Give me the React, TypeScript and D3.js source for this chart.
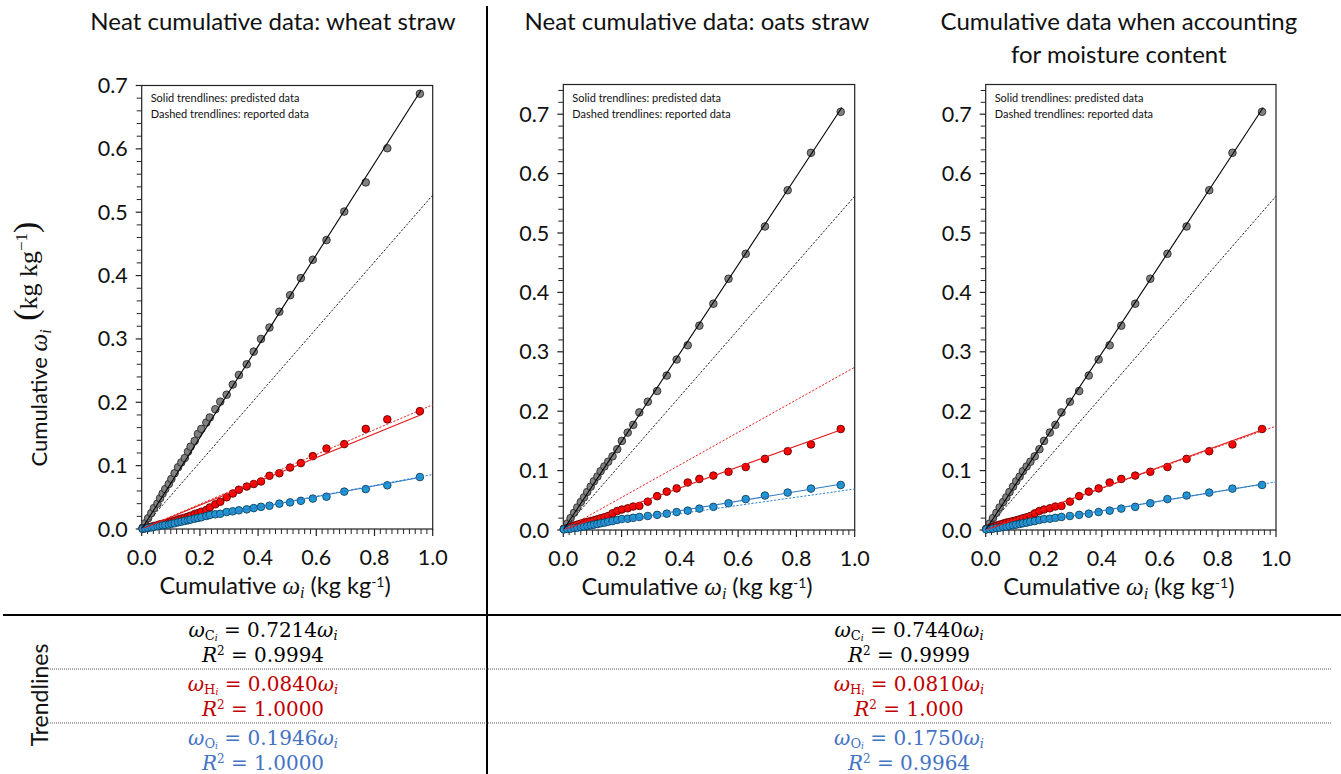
import React from 'react';
import * as d3 from 'd3';

// cumulative mass fraction (x) shared by the three element series of each panel
const wheatX = [0.003, 0.012, 0.022, 0.033, 0.042, 0.054, 0.063, 0.072, 0.081, 0.093, 0.102, 0.113, 0.125, 0.136,
  0.148, 0.159, 0.168, 0.182, 0.193, 0.205, 0.222, 0.234, 0.253, 0.270, 0.292, 0.313, 0.334, 0.361, 0.385, 0.410,
  0.439, 0.473, 0.510, 0.547, 0.588, 0.635, 0.696, 0.770, 0.844, 0.956];
const wheatC = [0.002, 0.009, 0.017, 0.025, 0.033, 0.040, 0.0485, 0.056, 0.063, 0.071, 0.079, 0.088, 0.0975, 0.105,
  0.112, 0.122, 0.130, 0.139, 0.150, 0.158, 0.168, 0.176, 0.189, 0.201, 0.212, 0.228, 0.243, 0.260, 0.280, 0.300,
  0.318, 0.343, 0.369, 0.396, 0.425, 0.456, 0.501, 0.547, 0.601, 0.687];
const wheatRed = [0.0005, 0.0015, 0.0025, 0.0036, 0.0048, 0.006, 0.0073, 0.0082, 0.009, 0.0105, 0.0117, 0.0131, 0.015,
  0.0163, 0.0178, 0.0194, 0.021, 0.0236, 0.025, 0.0273, 0.03, 0.034, 0.039, 0.043, 0.05, 0.056, 0.062, 0.067, 0.071,
  0.075, 0.084, 0.088, 0.097, 0.104, 0.115, 0.127, 0.134, 0.158, 0.173, 0.186];
const wheatBlue = [0.0003, 0.001, 0.0016, 0.0025, 0.0033, 0.0042, 0.005, 0.0057, 0.0063, 0.007, 0.0082, 0.009, 0.0105,
  0.0115, 0.0128, 0.0137, 0.0148, 0.0163, 0.0174, 0.0185, 0.0205, 0.022, 0.0232, 0.024, 0.0268, 0.0279, 0.0295, 0.031,
  0.033, 0.035, 0.0367, 0.04, 0.042, 0.0445, 0.048, 0.051, 0.059, 0.063, 0.069, 0.082];

const oatsX = [0.002, 0.014, 0.025, 0.037, 0.048, 0.060, 0.071, 0.082, 0.094, 0.105, 0.117, 0.128, 0.141, 0.154, 0.169,
  0.185, 0.201, 0.221, 0.240, 0.261, 0.290, 0.322, 0.355, 0.389, 0.427, 0.467, 0.515, 0.567, 0.626, 0.692, 0.770,
  0.850, 0.952];
const oatsC = [0.002, 0.011, 0.020, 0.029, 0.038, 0.047, 0.055, 0.064, 0.073, 0.082, 0.090, 0.099, 0.107, 0.115, 0.124,
  0.136, 0.150, 0.164, 0.177, 0.198, 0.216, 0.234, 0.260, 0.287, 0.311, 0.344, 0.381, 0.423, 0.465, 0.511, 0.572,
  0.635, 0.704];
const oatsRed = [0.0017, 0.0034, 0.005, 0.0073, 0.009, 0.0107, 0.0124, 0.0135, 0.015, 0.0163, 0.018, 0.0197, 0.0214,
  0.0236, 0.028, 0.032, 0.0345, 0.0365, 0.0395, 0.0405, 0.0477, 0.057, 0.0646, 0.07, 0.08, 0.086, 0.0916, 0.098, 0.106,
  0.1197, 0.1326, 0.144, 0.17];
const oatsBlue = [0.001, 0.0017, 0.0022, 0.0034, 0.0039, 0.005, 0.0056, 0.0068, 0.0079, 0.009, 0.0101, 0.0113, 0.0124,
  0.014, 0.015, 0.0169, 0.0185, 0.019, 0.0205, 0.022, 0.0236, 0.0255, 0.0275, 0.0302, 0.0326, 0.036, 0.039, 0.045,
  0.052, 0.058, 0.063, 0.0697, 0.0758];

// trendline slopes per panel: [grey, red, blue]
const solidSlopes = [[0.7214, 0.188, 0.085], [0.744, 0.177, 0.081], [0.744, 0.177, 0.081]];
const dashedSlopes = [[0.527, 0.196, 0.086], [0.562, 0.274, 0.069], [0.562, 0.175, 0.081]];

const panelTitles = [
  ['Neat cumulative data: wheat straw'],
  ['Neat cumulative data: oats straw'],
  ['Cumulative data when accounting', 'for moisture content'],
];
const yMaxes = [0.7, 0.75, 0.75];
const noteLines = ['Solid trendlines: predisted data', 'Dashed trendlines: reported data'];

// table rows: [element, slope, R²]
const wheatTrends = [['C', '0.7214', '0.9994'], ['H', '0.0840', '1.0000'], ['O', '0.1946', '1.0000']];
const oatsTrends = [['C', '0.7440', '0.9999'], ['H', '0.0810', '1.000'], ['O', '0.1750', '0.9964']];

const SANS = 'Lato, "Open Sans", sans-serif';
const SERIF = '"Liberation Serif", "DejaVu Serif", serif';
const MATH = '"DejaVu Serif", "Liberation Serif", serif';

const markerFill = ['#808080', '#ff0000', '#1e9bd7'];
const markerStroke = ['#2a2a2a', '#5a0000', '#123c5c'];
const solidColor = ['#000000', '#e31a1a', '#2e7bc4'];
const dashColor = ['#222222', '#ee2222', '#2e86d6'];
const tableColor = ['#000000', '#c00000', '#4472c4'];

const layout = [
  { left: 141.7, top: 85.5, width: 291, bottom: 529 },
  { left: 563.3, top: 84.5, width: 291.4, bottom: 530 },
  { left: 985.7, top: 84.5, width: 290.3, bottom: 530 },
];

const panelData = [
  { x: wheatX, series: [wheatC, wheatRed, wheatBlue] },
  { x: oatsX, series: [oatsC, oatsRed, oatsBlue] },
  { x: oatsX, series: [oatsC, oatsRed, oatsBlue] },
];

const fmt = d3.format('.1f');

const Panel: React.FC<{ idx: number }> = ({ idx }) => {
  const { left, top, width, bottom } = layout[idx];
  const yMax = yMaxes[idx];
  const xs = d3.scaleLinear().domain([0, 1]).range([left, left + width]);
  const ys = d3.scaleLinear().domain([0, yMax]).range([bottom, top]);
  const { x, series } = panelData[idx];
  const xEnd = d3.max(x) as number;
  const line = d3.line<[number, number]>().x(d => xs(d[0])).y(d => ys(d[1]));

  const yMajor = d3.range(0, yMax + 1e-9, 0.1);
  const yMinor = d3.range(0, yMax + 1e-9, 0.02).filter(v => Math.abs(v * 10 - Math.round(v * 10)) > 1e-6);
  const xMajor = d3.range(0, 1 + 1e-9, 0.2);
  const xMinor = d3.range(0, 1 + 1e-9, 0.02).filter(v => Math.abs(v * 5 - Math.round(v * 5)) > 1e-6);
  const cx = left + width / 2;

  return (
    <g>
      {panelTitles[idx].map((t, i) => (
        <text key={t} x={idx === 0 ? 273 : cx - 12} y={30 + i * 33} textAnchor="middle"
          fontFamily={SANS} fontSize={24} fill="#111">{t}</text>
      ))}
      <rect x={left} y={top} width={width} height={bottom - top} fill="none" stroke="#222" strokeWidth={1.2} />
      {yMinor.map(v => (
        <line key={'ym' + v} x1={left - 5} x2={left} y1={ys(v)} y2={ys(v)} stroke="#222" strokeWidth={1} />
      ))}
      {yMajor.map(v => (
        <g key={'yM' + v}>
          <line x1={left - 6} x2={left} y1={ys(v)} y2={ys(v)} stroke="#222" strokeWidth={1.2} />
          <text x={left - 14} y={ys(v) + 7.5} textAnchor="end" fontFamily={SANS} fontSize={21.5} fill="#111">{fmt(v)}</text>
        </g>
      ))}
      {xMinor.map(v => (
        <line key={'xm' + v} x1={xs(v)} x2={xs(v)} y1={bottom} y2={bottom + 5} stroke="#222" strokeWidth={1} />
      ))}
      {xMajor.map(v => (
        <g key={'xM' + v}>
          <line x1={xs(v)} x2={xs(v)} y1={bottom} y2={bottom + 7} stroke="#222" strokeWidth={1.2} />
          <text x={xs(v)} y={bottom + 36} textAnchor="middle" fontFamily={SANS} fontSize={21.5} fill="#111">{fmt(v)}</text>
        </g>
      ))}
      <text x={cx - 12} y={bottom + 65} textAnchor="middle" fontFamily={SANS} fontSize={23.5} fill="#111">
        Cumulative <tspan fontFamily={SERIF} fontStyle="italic" fontSize={25}>ω</tspan>
        <tspan fontFamily={SERIF} fontStyle="italic" fontSize={16} dy={4}>i</tspan>
        <tspan dy={-4}> (kg kg</tspan>
        <tspan fontSize={14} dy={-7}>-1</tspan>
        <tspan dy={7}>)</tspan>
      </text>
      {noteLines.map((t, i) => (
        <text key={t} x={left + 9} y={102 + i * 16} fontFamily={SANS} fontSize={11} fill="#111">{t}</text>
      ))}
      {series.map((ys0, s) => (
        <g key={'pts' + s}>
          {ys0.map((v, i) => (
            <circle key={i} cx={xs(x[i])} cy={ys(v)} r={3.8} fill={markerFill[s]} stroke={markerStroke[s]} strokeWidth={0.9} />
          ))}
        </g>
      ))}
      {dashedSlopes[idx].map((k, s) => (
        <path key={'d' + s} d={line([[0, 0], [1, k]]) as string} fill="none" stroke={dashColor[s]}
          strokeWidth={1} strokeDasharray="2.2,1.6" />
      ))}
      {solidSlopes[idx].map((k, s) => (
        <path key={'s' + s} d={line([[0, 0], [xEnd + 0.004, k * (xEnd + 0.004)]]) as string} fill="none"
          stroke={solidColor[s]} strokeWidth={1.1} />
      ))}
    </g>
  );
};

// two-line trendline equation
const Equation: React.FC<{ x: number; y: number; el: string; slope: string; r2: string; color: string }> =
  ({ x, y, el, slope, r2, color }) => (
    <g fill={color} fontFamily={MATH}>
      <text x={x} y={y} textAnchor="middle" fontSize={20}>
        <tspan fontStyle="italic">ω</tspan>
        <tspan fontSize={13} dy={2.5}>{el}</tspan>
        <tspan fontSize={9} fontStyle="italic" dy={1.5}>i</tspan>
        <tspan dy={-4}> = {slope}</tspan>
        <tspan fontStyle="italic">ω</tspan>
        <tspan fontSize={13} fontStyle="italic" dy={3}>i</tspan>
      </text>
      <text x={x} y={y + 25} textAnchor="middle" fontSize={20}>
        <tspan fontStyle="italic">R</tspan>
        <tspan fontSize={12} dy={-7}>2</tspan>
        <tspan dy={7}> = {r2}</tspan>
      </text>
    </g>
  );

const App: React.FC = () => {
  const rowY = [637, 691, 745];
  return (
    <svg width={1341} height={774} style={{ position: 'absolute', left: 0, top: 0, background: '#fff' }}>
      <rect width={1341} height={774} fill="#fff" />
      {[0, 1, 2].map(i => <Panel key={i} idx={i} />)}

      {/* y axis title */}
      <text transform="translate(47,344) rotate(-90)" textAnchor="middle" fontFamily={SANS} fontSize={22} fill="#111">
        Cumulative <tspan fontFamily={SERIF} fontStyle="italic" fontSize={25}>ω</tspan>
        <tspan fontFamily={SERIF} fontStyle="italic" fontSize={16} dy={4}>i</tspan>
        <tspan fontFamily={SERIF} fontSize={34} dy={-14}> (</tspan>
        <tspan fontFamily={SERIF} fontSize={26}>kg kg</tspan>
        <tspan fontFamily={SERIF} fontSize={17} dy={-10}>−1</tspan>
        <tspan fontFamily={SERIF} fontSize={34} dy={10}>)</tspan>
      </text>

      {/* table frame */}
      <line x1={487} x2={487} y1={6} y2={774} stroke="#000" strokeWidth={2} />
      <line x1={3} x2={1341} y1={615} y2={615} stroke="#000" strokeWidth={2} />
      {[669, 723].map(y => (
        <line key={y} x1={48} x2={1332} y1={y} y2={y} stroke="#555" strokeWidth={1} strokeDasharray="1,1" />
      ))}
      <text transform="translate(48,695) rotate(-90)" textAnchor="middle" fontFamily={SANS} fontSize={23} fill="#111">
        Trendlines
      </text>
      {wheatTrends.map((r, i) => (
        <Equation key={'w' + i} x={263} y={rowY[i]} el={r[0]} slope={r[1]} r2={r[2]} color={tableColor[i]} />
      ))}
      {oatsTrends.map((r, i) => (
        <Equation key={'o' + i} x={909} y={rowY[i]} el={r[0]} slope={r[1]} r2={r[2]} color={tableColor[i]} />
      ))}
    </svg>
  );
};

export default App;
